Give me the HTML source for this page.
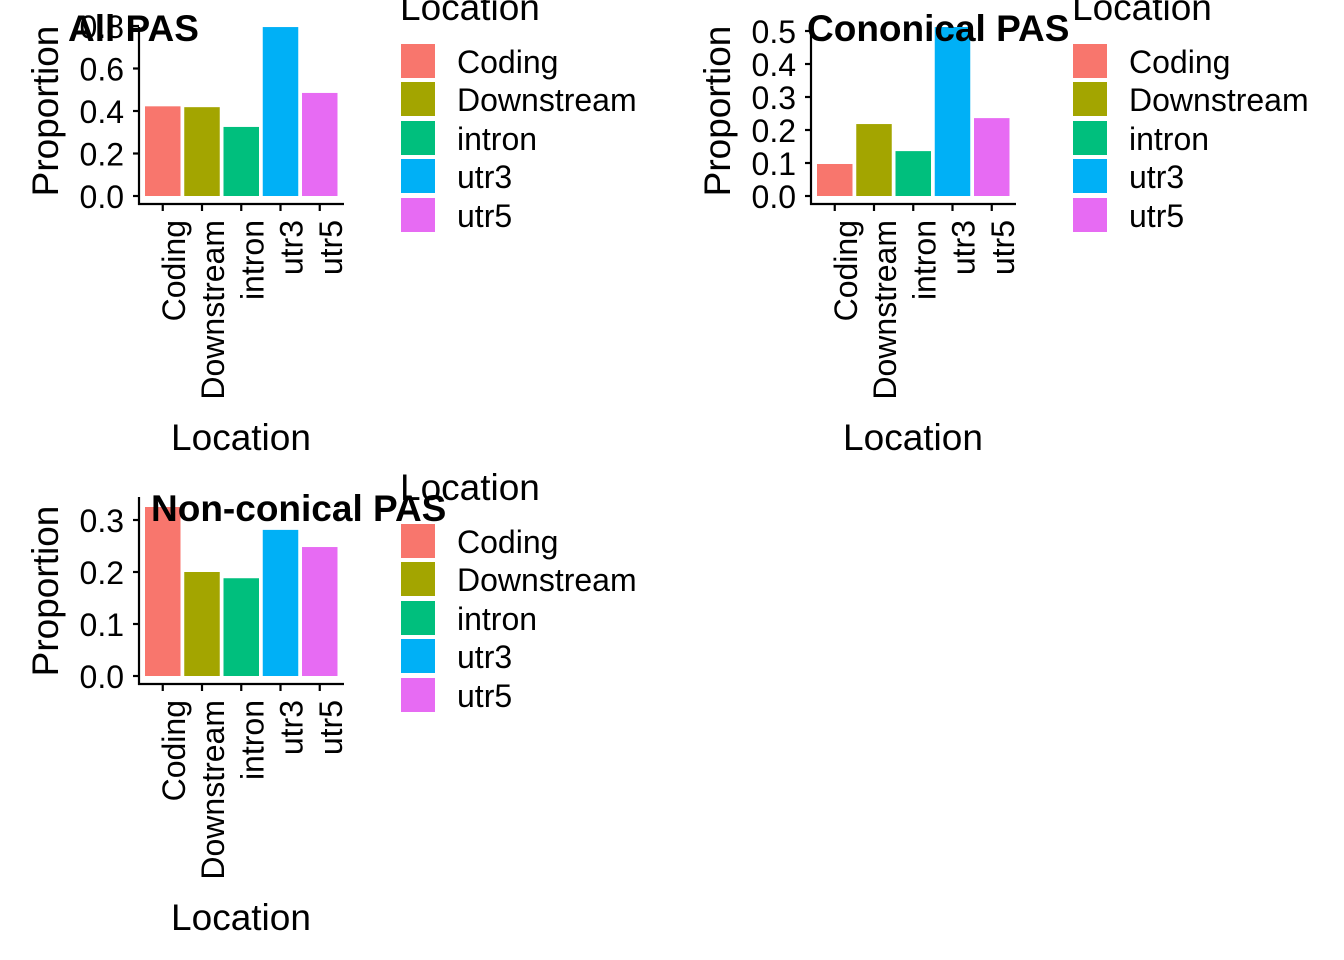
<!DOCTYPE html>
<html><head><meta charset="utf-8"><style>
html,body{margin:0;padding:0;background:#fff;}
svg{display:block;font-family:"Liberation Sans",Arial,sans-serif;}
</style></head><body>
<svg id="chart" width="1344" height="960" viewBox="0 0 1344 960" xmlns="http://www.w3.org/2000/svg"></svg>
<script>
const categories = ["Coding","Downstream","intron","utr3","utr5"];
const colors = ["#F8766D","#A3A500","#00BF7D","#00B0F6","#E76BF3"];
const allValues = [0.422, 0.418, 0.325, 0.795, 0.485];
const canonValues = [0.097, 0.218, 0.136, 0.512, 0.236];
const nonCanonValues = [0.325, 0.200, 0.188, 0.281, 0.248];
const allTicks = [0.0, 0.2, 0.4, 0.6, 0.8];
const canonTicks = [0.0, 0.1, 0.2, 0.3, 0.4, 0.5];
const nonCanonTicks = [0.0, 0.1, 0.2, 0.3];
const titles = ["All PAS", "Cononical PAS", "Non-conical PAS"];

const NS = "http://www.w3.org/2000/svg";
const svg = document.getElementById('chart');
function mk(tag, attrs, parent, text){
  const e = document.createElementNS(NS, tag);
  for (const k in attrs) e.setAttribute(k, attrs[k]);
  if (text !== undefined) e.textContent = text;
  parent.appendChild(e);
  return e;
}

function panel(dx, dy, values, ticks, perUnit, title, axisTop, slug){
  const g = mk('g', {transform:`translate(${dx},${dy})`}, svg);
  
  
  const y0 = 196;
  const yScale = v => y0 - v * perUnit;
  const x0 = 145, step = 39.25, bw = 35.5;
  const xScale = i => x0 + i * step;
  values.forEach((v, i) => {
    const r = mk('rect', {x:xScale(i), y:yScale(v), width:bw, height:y0 - yScale(v), fill:colors[i]}, g);
    
    
  });
  const ax = mk('g', {}, g);
  
  
  mk('line', {x1:139, y1:axisTop, x2:139, y2:205, stroke:'#000', 'stroke-width':2.2}, ax);
  ticks.forEach(t => {
    const y = yScale(t);
    mk('line', {x1:133, y1:y, x2:139, y2:y, stroke:'#000', 'stroke-width':2.2}, ax);
    const tl = mk('text', {x:124, y:y + 1, 'text-anchor':'end', 'dominant-baseline':'central', 'font-size':32, fill:'#000'}, ax, t.toFixed(1));
    
    
  });
  const xa = mk('g', {}, g);
  
  
  mk('line', {x1:138, y1:204, x2:344, y2:204, stroke:'#000', 'stroke-width':2.2}, xa);
  categories.forEach((c, i) => {
    const cx = xScale(i) + bw / 2;
    mk('line', {x1:cx, y1:204, x2:cx, y2:211, stroke:'#000', 'stroke-width':2.2}, xa);
    const tl = mk('text', {transform:`translate(${cx + 11},220) rotate(-90)`, 'text-anchor':'end', 'dominant-baseline':'central', 'font-size':32, fill:'#000'}, xa, c);
    
    
  });
  const xt = mk('text', {x:241, y:450, 'text-anchor':'middle', 'font-size':37, fill:'#000'}, g, 'Location');
  
  
  const yt = mk('text', {transform:'translate(58,111) rotate(-90)', 'text-anchor':'middle', 'font-size':37, fill:'#000'}, g, 'Proportion');
  
  
  const tt = mk('text', {x: slug === 'non-canonical' ? 151 : (slug === 'canonical' ? 135 : 68), y:41, 'font-size':37, 'font-weight':'bold', fill:'#000'}, g, title);
  
  
  const lg = mk('g', {}, g);
  
  
  const lt = mk('text', {x:400, y:20, 'font-size':37, fill:'#000'}, lg, 'Location');
  
  
  const keyY = [44, 82, 121, 159, 198];
  categories.forEach((c, i) => {
    const e = mk('g', {}, lg);
    
    
    mk('rect', {x:401, y:keyY[i], width:34, height:34, fill:colors[i]}, e);
    mk('text', {x:457, y:keyY[i] + 18, 'dominant-baseline':'central', 'font-size':32, fill:'#000'}, e, c);
  });
}

panel(0, 0, allValues, allTicks, 212.5, titles[0], 27, 'all');
panel(672, 0, canonValues, canonTicks, 330, titles[1], 27, 'canonical');
panel(0, 480, nonCanonValues, nonCanonTicks, 520, titles[2], 17, 'non-canonical');
</script>
</body></html>
